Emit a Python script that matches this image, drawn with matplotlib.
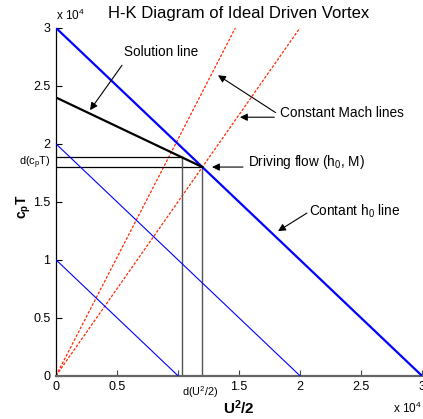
import matplotlib
matplotlib.use("Agg")
import matplotlib.pyplot as plt
from matplotlib.ticker import FuncFormatter

plt.rcParams["font.family"] = ["Liberation Sans", "DejaVu Sans"]
plt.rcParams["mathtext.fontset"] = "custom"
plt.rcParams["mathtext.rm"] = "Liberation Sans"
plt.rcParams["mathtext.it"] = "Liberation Sans"
plt.rcParams["mathtext.bf"] = "Liberation Sans:bold"

# ---------- data (U^2/2 and c_p T, in J/kg) ----------
h0_levels = [10000, 20000, 30000]      # constant h0 lines: c_pT + U^2/2 = h0
h0_widths = [0.8, 0.8, 1.6]
mach_ratio = [2.04, 1.5]               # c_pT / (U^2/2) along constant Mach lines
cpT_max = 30000
solution_U2 = [0, 12000]               # solution line
solution_cpT = [24000, 18000]
drive_U2, drive_cpT = 12000, 18000     # driving flow (h0, M)
d_U2, d_cpT = 10300, 18850             # neighbouring point on the solution line
ticks = [0, 5000, 10000, 15000, 20000, 25000, 30000]

fig = plt.figure(figsize=(4.23, 4.19), dpi=100)
ax = fig.add_axes([0.1324, 0.1033, 0.865, 0.830])

# constant h0 lines
for h0, lw in zip(h0_levels, h0_widths):
    ax.plot([0, h0], [h0, 0], color="#0000ff", lw=lw, zorder=3)

# constant Mach lines
for r in mach_ratio:
    ax.plot([0, cpT_max / r], [0, cpT_max], color="#ff2a00", lw=0.9,
            dashes=(2.2, 1.3), zorder=2)

# solution line
ax.plot(solution_U2, solution_cpT, color="black", lw=1.6, zorder=4)

# differential construction lines
ax.plot([0, d_U2], [d_cpT, d_cpT], color="black", lw=0.9, zorder=2)
ax.plot([0, drive_U2], [drive_cpT, drive_cpT], color="black", lw=0.9, zorder=2)
ax.plot([d_U2, d_U2], [0, d_cpT], color="#555555", lw=1.0, zorder=2)
ax.plot([drive_U2, drive_U2], [0, drive_cpT], color="#555555", lw=1.0, zorder=2)

ax.set_xlim(0, 30000)
ax.set_ylim(0, 30000)
ax.set_xticks(ticks)
ax.set_yticks(ticks)
# the x tick at 1e4 is left blank, d(U^2/2) sits there instead
ax.xaxis.set_major_formatter(FuncFormatter(lambda v, p: "" if v == 10000 else "%g" % (v / 1e4)))
ax.yaxis.set_major_formatter(FuncFormatter(lambda v, p: "%g" % (v / 1e4)))
ax.tick_params(direction="in", length=4, width=0.8, labelsize=9, pad=4)
ax.spines["top"].set_visible(False)
ax.spines["right"].set_visible(False)
ax.spines["bottom"].set_color("#666666")
ax.spines["bottom"].set_linewidth(1.6)
ax.spines["left"].set_linewidth(0.9)
ax.tick_params(axis="x", colors="#444444", labelcolor="black")

ax.set_title("H-K Diagram of Ideal Driven Vortex", fontsize=12, pad=7)
ax.set_xlabel(r"U$^\mathbf{2}$/2", fontsize=11, fontweight="bold")
ax.set_ylabel(r"c$_\mathbf{p}$T", fontsize=10, fontweight="bold")
ax.xaxis.set_label_coords(0.5, -0.065)
ax.yaxis.set_label_coords(-0.062, 0.485)

ax.text(0.0, 1.037, r"x 10$^4$", transform=ax.transAxes, fontsize=8.5,
        ha="left", va="center")
ax.text(1.0, -0.093, r"x 10$^4$", transform=ax.transAxes, fontsize=8.5,
        ha="right", va="center")
ax.text(0.393, -0.047, r"d(U$^2$/2)", transform=ax.transAxes, fontsize=7.8,
        ha="center", va="center")
ax.text(-0.016, 0.612, r"d(c$_p$T)", transform=ax.transAxes, fontsize=7.8,
        ha="right", va="center")

# annotations
arrow = dict(arrowstyle="-|>", color="black", lw=0.8, mutation_scale=11,
             shrinkA=0, shrinkB=0)
ax.text(5570, 27900, "Solution line", fontsize=9.8, ha="left", va="center")
ax.annotate("", xy=(2790, 22910), xytext=(5410, 26780), arrowprops=arrow)

ax.text(18360, 22650, "Constant Mach lines", fontsize=9.8, ha="left", va="center")
ax.annotate("", xy=(13280, 25920), xytext=(18000, 22700), arrowprops=arrow)
ax.annotate("", xy=(15080, 22300), xytext=(17900, 22300), arrowprops=arrow)

ax.text(15740, 18420, r"Driving flow (h$_0$, M)", fontsize=9.8, ha="left",
        va="center")
ax.annotate("", xy=(12790, 18000), xytext=(15330, 18000), arrowprops=arrow)

ax.text(20740, 14200, r"Contant h$_0$ line", fontsize=9.8, ha="left",
        va="center")
ax.annotate("", xy=(18200, 12470), xytext=(20570, 14030), arrowprops=arrow)

fig.savefig("out.png", dpi=100)
